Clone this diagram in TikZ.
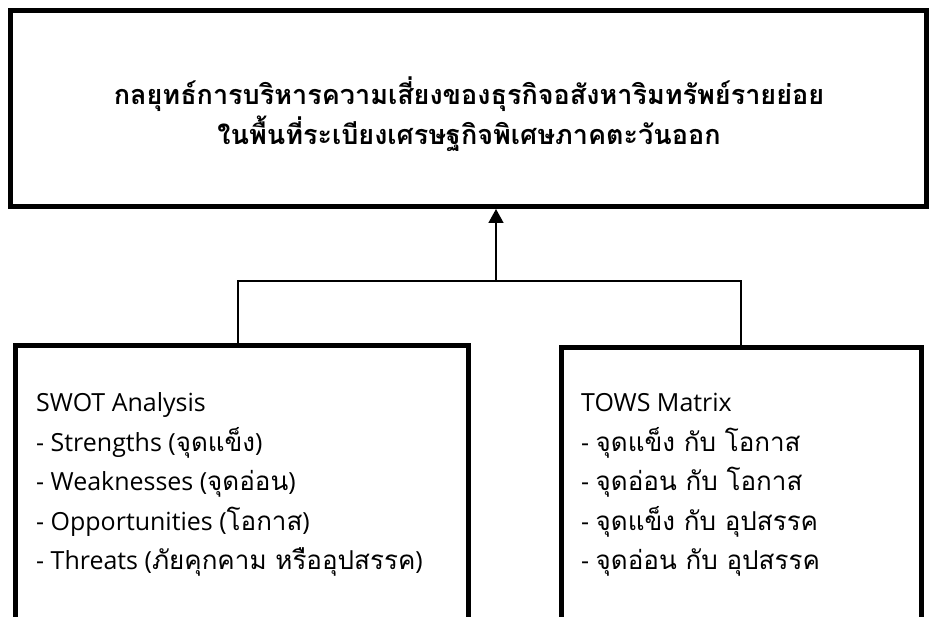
\documentclass[tikz,border=0pt]{standalone}
\usepackage{fontspec}
\setmainfont[Script=Thai]{Loma}
\newfontfamily\lat[Scale=0.96]{Open Sans}
\usetikzlibrary{arrows.meta}
\begin{document}
\begin{tikzpicture}[x=1pt,y=-1pt,
  bigbox/.style={draw=black,line width=4.5pt},
  conn/.style={draw=black,line width=1.6pt},
  title/.style={font=\fontsize{27}{40}\selectfont\bfseries,align=center,anchor=center},
  item/.style={font=\fontsize{26}{30}\selectfont,anchor=base west,inner sep=0pt}]
\useasboundingbox (0,0) rectangle (930,617);
\clip (0,0) rectangle (930,617);
\draw[bigbox] (10.5,10.5) rectangle (926.5,206.5);
\node[title] (t) at (469,114) {กลยุทธ์การบริหารความเสี่ยงของธุรกิจอสังหาริมทรัพย์รายย่อย\\ในพื้นที่ระเบียงเศรษฐกิจพิเศษภาคตะวันออก};
\coordinate (top) at (496,209);
\draw[bigbox] (15.5,345.5) rectangle (468.5,619.5);
\draw[bigbox] (561.5,347.5) rectangle (921.5,619.5);
\coordinate (j) at (496,281);
\coordinate (lj) at (238,281);
\coordinate (rj) at (741,281);
\coordinate (lb) at (238,343);
\coordinate (rb) at (741,345);
\draw[conn] (lb) -- (lj) -- (rj) -- (rb);
\draw[conn,-{Triangle[length=14pt,width=15pt]}] (j) -- (top);
\node[item] (l0) at (36,412) {\lat SWOT Analysis};
\node[item] (l1) at (36,451.5) {{\lat - Strengths (}จุดแข็ง{\lat )}};
\node[item] (l2) at (36,491) {{\lat - Weaknesses (}จุดอ่อน{\lat )}};
\node[item] (l3) at (36,530.5) {{\lat - Opportunities (}โอกาส{\lat )}};
\node[item] (l4) at (36,570) {{\lat - Threats (}ภัยคุกคาม หรืออุปสรรค{\lat )}};
\node[item] (r0) at (581,412) {\lat TOWS Matrix};
\node[item] (r1) at (581,451.5) {{\lat - }จุดแข็ง กับ โอกาส};
\node[item] (r2) at (581,491) {{\lat - }จุดอ่อน กับ โอกาส};
\node[item] (r3) at (581,530.5) {{\lat - }จุดแข็ง กับ อุปสรรค};
\node[item] (r4) at (581,570) {{\lat - }จุดอ่อน กับ อุปสรรค};
\end{tikzpicture}
\end{document}
